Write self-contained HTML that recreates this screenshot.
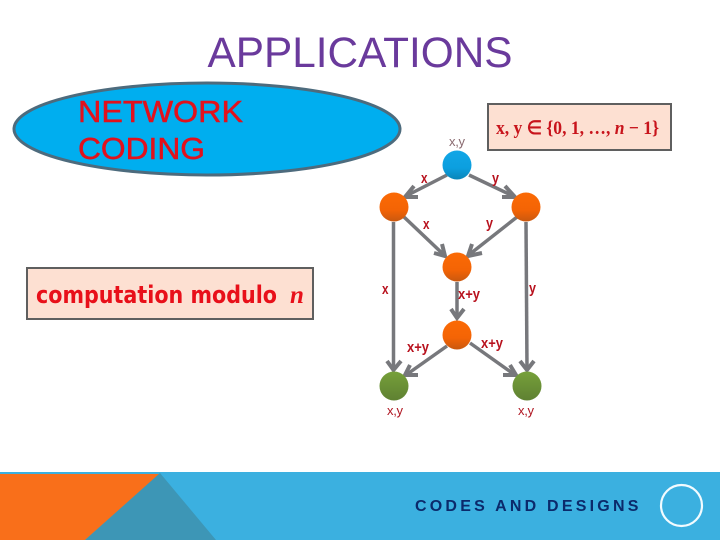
<!DOCTYPE html>
<html><head><meta charset="utf-8"><style>
html,body{margin:0;padding:0;width:720px;height:540px;overflow:hidden;background:#fff}
svg{display:block}
text{font-family:"Liberation Sans",sans-serif}
</style></head><body>
<svg width="720" height="540" viewBox="0 0 720 540" xmlns="http://www.w3.org/2000/svg">
<defs>
<linearGradient id="b" x1="0" y1="0" x2="0" y2="1"><stop offset="0" stop-color="#12a6e6"/><stop offset="0.6" stop-color="#0c9fdf"/><stop offset="1" stop-color="#0a85b8"/></linearGradient>
<linearGradient id="o" x1="0" y1="0" x2="0" y2="1"><stop offset="0" stop-color="#fb6a05"/><stop offset="0.6" stop-color="#f46405"/><stop offset="1" stop-color="#c9580f"/></linearGradient>
<linearGradient id="g" x1="0" y1="0" x2="0" y2="1"><stop offset="0" stop-color="#76a03a"/><stop offset="1" stop-color="#5f8132"/></linearGradient>
</defs>

<text x="360" y="67" font-size="43" fill="#6a3a9c" text-anchor="middle" textLength="305" lengthAdjust="spacingAndGlyphs">APPLICATIONS</text>

<ellipse cx="207" cy="129" rx="193" ry="46" fill="#00aeef" stroke="#4d6b7d" stroke-width="3"/>
<text x="78" y="122" font-size="31" fill="#e2111c" stroke="#e2111c" stroke-width="0.5" textLength="165" lengthAdjust="spacingAndGlyphs">NETWORK</text>
<text x="78" y="159" font-size="31" fill="#e2111c" stroke="#e2111c" stroke-width="0.5" textLength="127" lengthAdjust="spacingAndGlyphs">CODING</text>

<rect x="488" y="104" width="183" height="46" fill="#fde0d2" stroke="#5f5f5f" stroke-width="2"/>
<text x="496" y="134" font-size="19" fill="#c8141c" style="font-family:'Liberation Serif',serif" font-weight="bold" textLength="163" lengthAdjust="spacingAndGlyphs">x, y ∈ {0, 1, …, <tspan font-style="italic">n</tspan> − 1}</text>

<rect x="27" y="268" width="286" height="51" fill="#fde0d2" stroke="#5f5f5f" stroke-width="2"/>
<text x="36" y="303" font-size="24" font-weight="bold" fill="#e8101a" textLength="241" lengthAdjust="spacingAndGlyphs" style="font-family:'DejaVu Sans',sans-serif">computation modulo</text>
<text x="290" y="303" font-size="25" font-style="italic" font-weight="bold" fill="#e8101a" style="font-family:'Liberation Serif',serif">n</text>

<g stroke="#77787c" stroke-width="3.5" fill="none">
<line x1="447" y1="175" x2="406" y2="196"/>
<line x1="469" y1="175" x2="513" y2="196"/>
<line x1="404" y1="217" x2="443" y2="254"/>
<line x1="517" y1="217" x2="470" y2="254"/>
<line x1="393.5" y1="222" x2="393.5" y2="369"/>
<line x1="526" y1="222" x2="527" y2="369"/>
<line x1="457" y1="282" x2="457" y2="318"/>
<line x1="447" y1="346" x2="406" y2="375"/>
<line x1="470" y1="343" x2="515" y2="375"/>
</g>
<g stroke="#77787c" stroke-width="4" fill="none" stroke-linejoin="miter">
<polyline points="414,186 405,197 418,197"/>
<polyline points="505,186 515,197 502,197"/>
<polyline points="442,244 445,256 434,253"/>
<polyline points="472,244 468,256 482,253"/>
<polyline points="387,361 393.5,370 401,361"/>
<polyline points="520,361 527,370 534,361"/>
<polyline points="451,309 457,318 464,309"/>
<polyline points="410,365 405,375 418,375"/>
<polyline points="510,365 516,375 503,375"/>
</g>

<circle cx="457" cy="165" r="14.5" fill="url(#b)"/>
<circle cx="394" cy="207" r="14.5" fill="url(#o)"/>
<circle cx="526" cy="207" r="14.5" fill="url(#o)"/>
<circle cx="457" cy="267" r="14.5" fill="url(#o)"/>
<circle cx="457" cy="335" r="14.5" fill="url(#o)"/>
<circle cx="394" cy="386" r="14.5" fill="url(#g)"/>
<circle cx="527" cy="386" r="14.5" fill="url(#g)"/>

<g font-size="13">
<text x="449" y="146" fill="#8a6a70" textLength="16" lengthAdjust="spacing">x , y</text>
<text x="387" y="415" fill="#b01622" textLength="16" lengthAdjust="spacing">x , y</text>
<text x="518" y="415" fill="#b01622" textLength="16" lengthAdjust="spacing">x , y</text>
</g>
<g fill="#b8121e" font-size="15" font-weight="bold">
<text x="421" y="183" textLength="6.5" lengthAdjust="spacingAndGlyphs">x</text>
<text x="492" y="183" textLength="7" lengthAdjust="spacingAndGlyphs">y</text>
<text x="423" y="229" textLength="6.5" lengthAdjust="spacingAndGlyphs">x</text>
<text x="486" y="228" textLength="7" lengthAdjust="spacingAndGlyphs">y</text>
<text x="382" y="294" textLength="6.5" lengthAdjust="spacingAndGlyphs">x</text>
<text x="529" y="293" textLength="7" lengthAdjust="spacingAndGlyphs">y</text>
<text x="458" y="299" textLength="22" lengthAdjust="spacingAndGlyphs">x+y</text>
<text x="407" y="352" textLength="22" lengthAdjust="spacingAndGlyphs">x+y</text>
<text x="481" y="348" textLength="22" lengthAdjust="spacingAndGlyphs">x+y</text>
</g>

<rect x="0" y="472" width="720" height="68" fill="#3bb0e0"/>
<polygon points="0,474 160,474 85,540 0,540" fill="#f96f1a"/>
<polygon points="160,473 216,540 85,540" fill="#3d96b6"/>
<text x="415" y="511" font-size="16" font-weight="bold" fill="#0b2a6b" letter-spacing="2.6" textLength="226">CODES AND DESIGNS</text>
<circle cx="681.5" cy="505.5" r="20.5" fill="none" stroke="#f2fbff" stroke-width="2.2"/>
</svg>
</body></html>
